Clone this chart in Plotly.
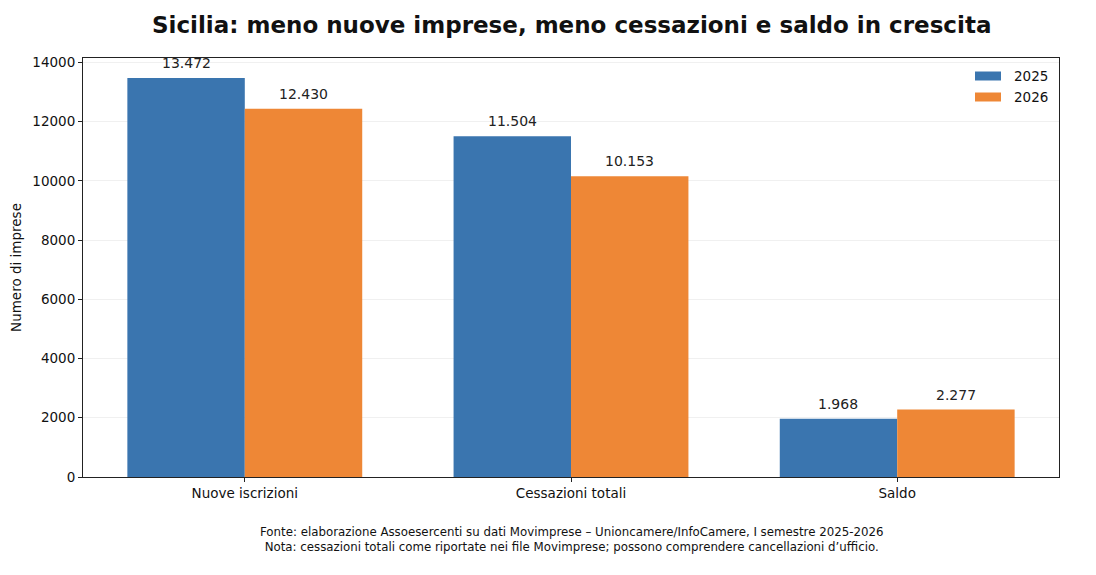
import plotly.graph_objects as go

categories = ["Nuove iscrizioni", "Cessazioni totali", "Saldo"]
values_2025 = [13472, 11504, 1968]
values_2026 = [12430, 10153, 2277]
series_names = ["2025", "2026"]
y_ticks = [0, 2000, 4000, 6000, 8000, 10000, 12000, 14000]

title = "Sicilia: meno nuove imprese, meno cessazioni e saldo in crescita"
footer = ("Fonte: elaborazione Assoesercenti su dati Movimprese – Unioncamere/InfoCamere, I semestre 2025-2026<br>"
          "Nota: cessazioni totali come riportate nei file Movimprese; possono comprendere cancellazioni d’ufficio.")

FONT = "DejaVu Sans"
BLUE = "#3a75af"
ORANGE = "#ee8736"
COLORS = [BLUE, ORANGE]
BAR_W = 0.36

W, H = 1096, 575
OFF = 8  # page body margin
PL, PR, PT, PB = 83, 1059, 58, 477  # target plot area in page pixels
ML, MT = PL - OFF, PT - OFF
MR = W - (PR - OFF)
MB = H - (PB - OFF)
PW, PH = PR - PL, PB - PT


def px(x):
    return (x - PL) / PW


def py(y):
    return (PB - y) / PH


def fmt_it(v):
    return f"{v:,}".replace(",", ".")


fig = go.Figure()
shapes = []
annotations = []
for k, (name, vals, col) in enumerate(zip(series_names, [values_2025, values_2026], COLORS)):
    xs = list(range(len(categories)))
    fig.add_trace(go.Bar(
        x=xs, y=vals, name=name,
        marker=dict(color=col, line=dict(width=0)),
        cliponaxis=False, showlegend=False,
    ))
    dx = (k - 0.5) * BAR_W
    for xi, v in zip(xs, vals):
        annotations.append(dict(text=fmt_it(v), x=xi + dx, y=v, xref="x", yref="y",
                                xanchor="center", yanchor="bottom", yshift=5, showarrow=False,
                                font=dict(family=FONT, size=14, color="#222")))

# custom legend with wide swatches
for i, (name, col) in enumerate(zip(series_names, COLORS)):
    yc = 76 + 21 * i
    shapes.append(dict(type="rect", xref="paper", yref="paper",
                       x0=px(975), x1=px(1001), y0=py(yc - 4.5), y1=py(yc + 4.5),
                       fillcolor=col, line=dict(width=0)))
    annotations.append(dict(text=name, xref="paper", yref="paper", x=px(1012), y=py(yc),
                            xanchor="left", yanchor="middle", showarrow=False,
                            font=dict(family=FONT, size=13.5, color="#111")))

annotations.append(dict(text="<b>" + title + "</b>", xref="paper", yref="paper", x=0.5, y=py(25),
                        xanchor="center", yanchor="middle", showarrow=False,
                        font=dict(family=FONT, size=23, color="#111")))
annotations.append(dict(text=footer, xref="paper", yref="paper", x=0.5, y=py(523), xanchor="center",
                        yanchor="top", showarrow=False, align="center",
                        font=dict(family=FONT, size=11.8, color="#111")))

fig.update_layout(
    width=W, height=H,
    margin=dict(l=ML, r=MR, t=MT, b=MB, autoexpand=False),
    paper_bgcolor="white", plot_bgcolor="white",
    barmode="group", bargap=1 - 2 * BAR_W, bargroupgap=0,
    font=dict(family=FONT, size=13.5, color="#111"),
    showlegend=False,
    xaxis=dict(range=[-0.496, 2.496], tickvals=list(range(len(categories))), ticktext=categories,
               showline=True, linecolor="#222", linewidth=1, mirror=True,
               ticks="outside", ticklen=4, tickcolor="#222", showgrid=False,
               tickfont=dict(family=FONT, size=13.5, color="#111"), zeroline=False),
    yaxis=dict(range=[0, 14146], tickvals=y_ticks, tickformat="d",
               showline=True, linecolor="#222", linewidth=1, mirror=True,
               ticks="outside", ticklen=4, tickcolor="#222",
               showgrid=True, gridcolor="rgba(0,0,0,0.06)", gridwidth=1, zeroline=False,
               tickfont=dict(family=FONT, size=13.5, color="#111"),
               title=dict(text="Numero di imprese", font=dict(family=FONT, size=13.5, color="#111"), standoff=12)),
    shapes=shapes,
    annotations=annotations,
)

fig.write_html("out.html")
